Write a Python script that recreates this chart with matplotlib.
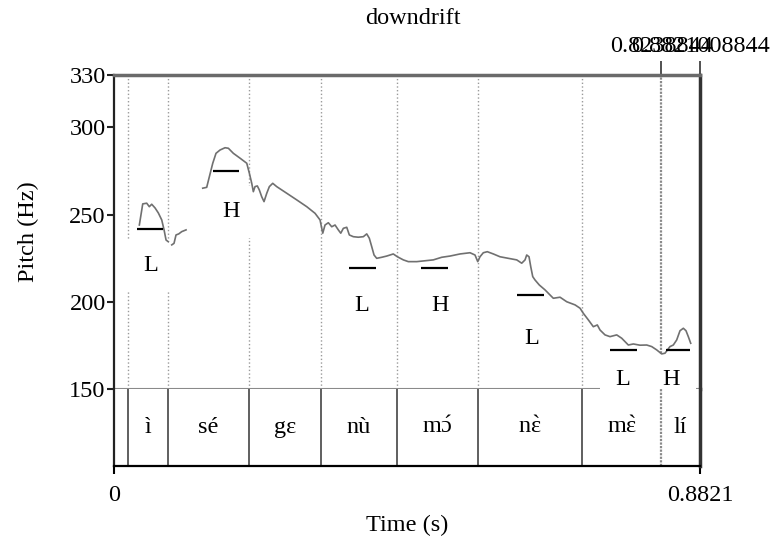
import matplotlib
matplotlib.use("Agg")
import matplotlib.pyplot as plt
import numpy as np

plt.rcParams['font.family'] = ['Liberation Serif', 'DejaVu Serif']
plt.rcParams['mathtext.fontset'] = 'custom'
plt.rcParams['mathtext.rm'] = 'Liberation Serif'
plt.rcParams['mathtext.it'] = 'Liberation Serif:italic'

# --- datos del contorno de f0 (s, Hz); NaN = sin voz ---
tiempo = [0.0381, 0.0432, 0.0492, 0.0531, 0.0567, 0.0617, 0.0667, 0.0718, 0.0753, 0.0783, 0.0817,
          np.nan,
          0.0869, 0.0903, 0.0933, 0.0974, 0.1019, 0.1084,
          np.nan,
          0.1335, 0.1395, 0.1435, 0.1486, 0.1535, 0.1596, 0.1671, 0.1721, 0.1796, 0.1897,
          0.1998, 0.2037, 0.2073, 0.2097, 0.2122, 0.2157, 0.2187, 0.2223, 0.2258, 0.2299,
          0.2338, 0.2389, 0.2449, 0.2600, 0.2750, 0.2901, 0.3026, 0.3101, 0.3142, 0.3176,
          0.3226, 0.3277, 0.3327, 0.3376, 0.3413, 0.3452, 0.3503, 0.3542, 0.3602, 0.3677,
          0.3753, 0.3804, 0.3843, 0.3879, 0.3914, 0.3954, 0.4030, 0.4105, 0.4204, 0.4265,
          0.4355, 0.4430, 0.4557, 0.4707, 0.4806, 0.4933, 0.5058, 0.5208, 0.5359, 0.5434,
          0.5475, 0.5509, 0.5559, 0.5619, 0.5710, 0.5810, 0.5935, 0.6062, 0.6137, 0.6187,
          0.6212, 0.6247, 0.6273, 0.6303, 0.6337, 0.6402, 0.6488, 0.6563, 0.6613, 0.6714,
          0.6815, 0.6940, 0.7015, 0.7064, 0.7140, 0.7215, 0.7275, 0.7316, 0.7391, 0.7466,
          0.7567, 0.7642, 0.7742, 0.7817, 0.7918, 0.8019, 0.8094, 0.8169, 0.8244, 0.8294,
          0.8369, 0.8419, 0.8470, 0.8520, 0.8570, 0.8610, 0.8645, 0.8681]
pitch = [244.0, 256.1, 256.5, 254.5, 255.9, 253.8, 250.9, 246.9, 241.2, 235.4, 234.4,
         np.nan,
         232.6, 233.5, 238.3, 238.9, 240.2, 241.2,
         np.nan,
         265.1, 265.6, 271.7, 279.4, 285.1, 287.0, 288.3, 288.0, 285.1, 282.3,
         279.4, 273.7, 267.9, 263.1, 266.0, 266.4, 264.1, 260.2, 257.4, 262.2,
         266.0, 267.9, 266.0, 262.2, 258.4, 254.5, 250.7, 246.9, 239.3, 244.0,
         245.3, 243.0, 244.0, 241.2, 239.3, 242.1, 242.7, 238.3, 237.3, 237.0,
         237.3, 238.9, 236.4, 231.6, 226.8, 224.9, 225.5, 226.2, 227.4, 225.8,
         224.0, 223.0, 223.0, 223.6, 224.0, 225.5, 226.2, 227.4, 228.1, 226.8,
         223.0, 225.8, 228.1, 228.7, 227.4, 225.8, 224.9, 224.0, 222.1, 224.0,
         226.8, 225.8, 220.1, 214.4, 212.5, 209.6, 206.8, 203.9, 202.0, 202.6,
         200.0, 198.2, 196.3, 193.4, 189.6, 185.7, 186.7, 183.8, 181.0, 180.0,
         181.0, 179.1, 175.2, 175.8, 175.1, 175.2, 174.3, 172.4, 170.1, 170.5,
         174.3, 175.2, 178.1, 183.4, 184.8, 183.4, 180.0, 176.2]

# --- niveles tonales (barras) ---
tono_inicio = [0.0346, 0.1490, 0.3537, 0.4621, 0.6066, 0.7466, 0.8309]
tono_fin = [0.0738, 0.1882, 0.3944, 0.5028, 0.6473, 0.7873, 0.8670]
tono_nivel = [241.7, 275.0, 219.4, 219.4, 203.9, 172.4, 172.4]
tono_etiqueta = ['L', 'H', 'L', 'H', 'L', 'L', 'H']
etiqueta_t = [0.0549, 0.1761, 0.3733, 0.4907, 0.6292, 0.7662, 0.8385]
etiqueta_hz = [220.5, 251.5, 197.6, 197.6, 178.7, 155.2, 155.2]

# --- grilla de texto (sílabas) ---
limites = [0.0, 0.0211, 0.0813, 0.2032, 0.3116, 0.4260, 0.5479, 0.7045, 0.823884, 0.8821]
# mathtext para poner bien los acentos sobre ɔ y ɛ
silabas = ['', 'ì', 'sé', 'gɛ', 'nù', r'm$\acute{\mathrm{ɔ}}$', r'n$\grave{\mathrm{ɛ}}$',
           r'm$\grave{\mathrm{ɛ}}$', 'lí']

duracion = 0.8821
fmin, fmax = 150, 330
yticks = [150, 200, 250, 300, 330]

fs = 17.5
fig = plt.figure(figsize=(7.7, 5.36), dpi=100)
ax = fig.add_axes([0.1481, 0.2743, 0.7610, 0.5858])
at = fig.add_axes([0.1481, 0.1306, 0.7610, 0.1437])

ax.set_xlim(0, duracion)
ax.set_ylim(fmin, fmax)
at.set_xlim(0, duracion)
at.set_ylim(0, 1)

# lineas punteadas de limites en el area de pitch
for b in limites[1:-2]:
    ax.axvline(b, color='#9a9a9a', linestyle=':', lw=1, zorder=1)
ax.axvline(limites[-2], color='#8a8a8a', linestyle=(0, (1, 0.6)), lw=1.6, zorder=1)

ax.plot(tiempo, pitch, color='#707070', lw=1.2, zorder=5)

for i in range(len(tono_nivel)):
    ax.plot([tono_inicio[i], tono_fin[i]], [tono_nivel[i], tono_nivel[i]],
            color='black', lw=1.6, zorder=6, solid_capstyle='butt')
    ax.text(etiqueta_t[i], etiqueta_hz[i], tono_etiqueta[i], ha='center', va='center',
            fontsize=fs, zorder=4,
            bbox=dict(boxstyle='square,pad=0.65', fc='white', ec='none'))

# grilla
for b in limites[1:-2]:
    at.axvline(b, color='#444444', lw=1.2)
at.axvline(limites[-2], color='#8a8a8a', linestyle=(0, (1, 0.6)), lw=1.6)
for i in range(len(silabas)):
    centro = (limites[i] + limites[i + 1]) / 2
    at.text(centro, 0.5, silabas[i], ha='center', va='center', fontsize=fs)

# ejes / marcos
ax.spines['top'].set_color('#6a6a6a')
ax.spines['top'].set_linewidth(2.5)
ax.spines['bottom'].set_color('#8a8a8a')
ax.spines['bottom'].set_linewidth(1.5)
ax.spines['left'].set_color('#222222')
ax.spines['left'].set_linewidth(1.6)
ax.spines['right'].set_color('#333333')
ax.spines['right'].set_linewidth(2.5)
at.spines['top'].set_visible(False)
at.spines['left'].set_color('#222222')
at.spines['left'].set_linewidth(1.6)
at.spines['right'].set_color('#333333')
at.spines['right'].set_linewidth(2.5)
at.spines['bottom'].set_color('black')
at.spines['bottom'].set_linewidth(1.6)

ax.set_yticks(yticks)
ax.set_yticklabels([str(v) for v in yticks], fontsize=fs)
ax.tick_params(axis='y', direction='out', length=5, width=1.5, pad=1, color='#222222')
ax.set_xticks([limites[-2], duracion])
ax.set_xticklabels(['0.8238844', '0.8821008844'], fontsize=fs)
ax.tick_params(axis='x', bottom=False, labelbottom=False, top=True, labeltop=True,
               direction='out', length=10, width=1.2, pad=3, color='#333333')
ax.set_ylabel('Pitch (Hz)', fontsize=fs, labelpad=22)

at.set_yticks([])
at.set_xticks([0, duracion])
at.set_xticklabels(['0', '0.8821'], fontsize=fs)
at.tick_params(axis='x', direction='out', length=6, width=1.5, pad=8)
at.set_xlabel('Time (s)', fontsize=fs, labelpad=6)

fig.text(0.536, 0.966, 'downdrift', ha='center', va='center', fontsize=fs)

fig.savefig('out.png', dpi=100)
